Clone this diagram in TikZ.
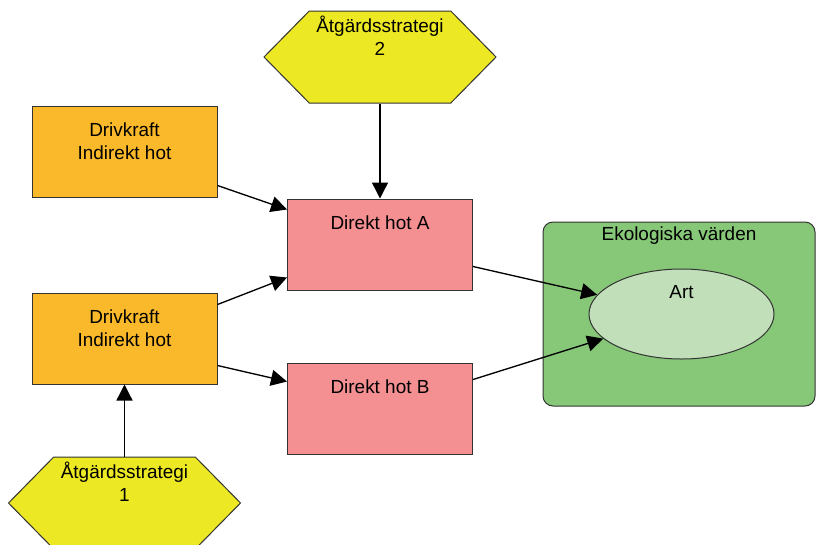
\documentclass[tikz,border=0pt]{standalone}
\usepackage{fontspec}
\setmainfont{Liberation Sans}
\usetikzlibrary{positioning,shapes.geometric,shapes.symbols,arrows.meta}
\definecolor{drivorange}{RGB}{250,185,42}
\definecolor{hotpink}{RGB}{244,143,146}
\definecolor{stratyellow}{RGB}{236,232,36}
\definecolor{ekogreen}{RGB}{134,199,120}
\definecolor{artgreen}{RGB}{193,224,185}
\tikzstyle{block} = [rectangle, draw=black!80, line width=0.75pt,
    minimum width=138.75pt, minimum height=68.25pt]
\tikzstyle{drive} = [block, fill=drivorange]
\tikzstyle{threat} = [block, fill=hotpink]
\tikzstyle{strategy} = [signal, signal to=west and east, signal pointer angle=91, draw=black!80,
    line width=0.75pt, fill=stratyellow, minimum width=174pt, minimum height=69pt]
\tikzstyle{values} = [rectangle, rounded corners=7.5pt, draw=black!80, line width=0.75pt,
    fill=ekogreen, minimum width=204pt, minimum height=138pt]
\tikzstyle{species} = [ellipse, draw=black!80, line width=0.75pt, fill=artgreen,
    minimum width=138.75pt, minimum height=67.5pt]
\tikzstyle{intext} = [anchor=north, align=center, inner sep=0pt]
\tikzstyle{line} = [draw, line width=1pt, -{Triangle[length=12pt,width=12pt]}]

\begin{document}
\begin{tikzpicture}[x=0.75pt, y=-0.75pt, font=\fontsize{14.2}{17.5}\selectfont]
      \useasboundingbox (0,0) rectangle (816,544);
      % Drivers and threats
      \node [drive, label={[intext, yshift=-12.75pt]north:{Drivkraft\\Indirekt hot}}] (drv1) at (124.5,151.5) {};
      \node [drive, below=71.25pt of drv1, label={[intext, yshift=-12.75pt]north:{Drivkraft\\Indirekt hot}}] (drv2) {};
      \node [threat, label={[intext, yshift=-12.75pt]north:Direkt hot A}] (hotA) at (380,244.5) {};
      \node [threat, below=54pt of hotA, label={[intext, yshift=-12.75pt]north:Direkt hot B}] (hotB) {};
      % Strategies
      \node [strategy, above=71.25pt of hotA, label={[intext, yshift=-3.75pt]north:{Åtgärdsstrategi\\2}}] (strat2) {};
      \node [strategy, below=54pt of drv2, label={[intext, yshift=-3.75pt]north:{Åtgärdsstrategi\\1}}] (strat1) {};
      % Ecological values
      \node [values, label={[intext, yshift=-3.75pt]north:Ekologiska värden}] (eko) at (679,314) {};
      \node [species, label={[intext, yshift=-12.75pt]north:Art}] (art) at (681.5,314) {};
      % Draw edges
      \path [line] (strat2) -- (hotA);
      \path [line] (strat1) -- (drv2);
      \path [line] ([yshift=9pt]drv1.south east) -- ([yshift=-8.25pt]hotA.north west);
      \path [line] ([yshift=-9pt]drv2.north east) -- ([yshift=9.75pt]hotA.south west);
      \path [line] ([yshift=14.25pt]drv2.south east) -- ([yshift=-14.25pt]hotB.north west);
      \path [line] ([yshift=18pt]hotA.south east) -- (art);
      \path [line] ([yshift=-12.75pt]hotB.north east) -- (art);
  \end{tikzpicture}
\end{document}
